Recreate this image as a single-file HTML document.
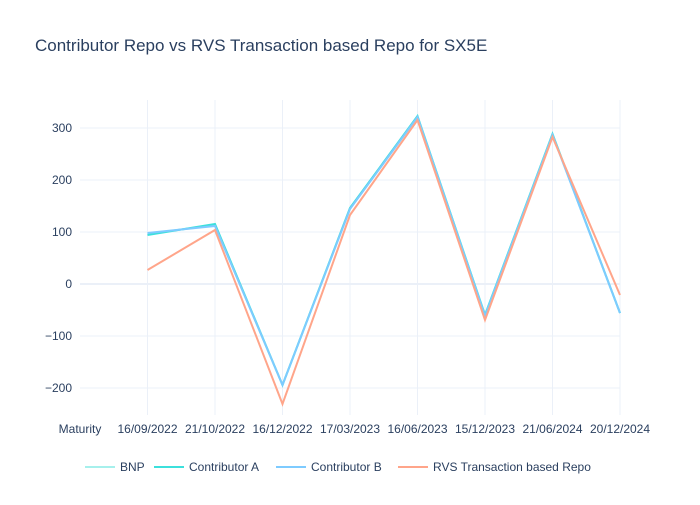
<!DOCTYPE html>
<html><head><meta charset="utf-8"><style>
body{margin:0;background:#fff;font-family:"Liberation Sans","Open Sans",sans-serif;}
text{font-family:"Liberation Sans","Open Sans",sans-serif;fill:#2a3f5f;}
</style></head><body>
<svg width="700" height="500" xmlns="http://www.w3.org/2000/svg">
<rect width="700" height="500" fill="#fff"/>
<text x="35" y="51" font-size="17">Contributor Repo vs RVS Transaction based Repo for SX5E</text>
<g stroke="#ebf0f8" stroke-width="1">
<line x1="147.5" y1="100" x2="147.5" y2="415"/>
<line x1="215" y1="100" x2="215" y2="415"/>
<line x1="282.5" y1="100" x2="282.5" y2="415"/>
<line x1="350" y1="100" x2="350" y2="415"/>
<line x1="417.5" y1="100" x2="417.5" y2="415"/>
<line x1="485" y1="100" x2="485" y2="415"/>
<line x1="552.5" y1="100" x2="552.5" y2="415"/>
<line x1="620" y1="100" x2="620" y2="415"/>
<line x1="80" y1="128" x2="620" y2="128"/>
<line x1="80" y1="180" x2="620" y2="180"/>
<line x1="80" y1="232" x2="620" y2="232"/>
<line x1="80" y1="336" x2="620" y2="336"/>
<line x1="80" y1="388" x2="620" y2="388"/>
</g>
<line x1="80" y1="284" x2="620" y2="284" stroke="#ebf0f8" stroke-width="2"/>
<g font-size="12" text-anchor="end">
<text x="72" y="132">300</text><text x="72" y="184">200</text><text x="72" y="236">100</text>
<text x="72" y="288">0</text><text x="72" y="340">−100</text><text x="72" y="392">−200</text>
</g>
<g font-size="12" text-anchor="middle">
<text x="80" y="433">Maturity</text><text x="147.5" y="433">16/09/2022</text><text x="215" y="433">21/10/2022</text>
<text x="282.5" y="433">16/12/2022</text><text x="350" y="433">17/03/2023</text><text x="417.5" y="433">16/06/2023</text>
<text x="485" y="433">15/12/2023</text><text x="552.5" y="433">21/06/2024</text><text x="620" y="433">20/12/2024</text>
</g>
<g fill="none" stroke-width="2">
<polyline stroke="#a6f0ec" points="147.5,234 215,225 282.5,385 350,208 417.5,117 485,315 552.5,134 620,313"/>
<polyline stroke="#3ce0dc" points="147.5,235 215,224 282.5,385 350,208 417.5,116 485,315 552.5,134 620,313"/>
<polyline stroke="#7ecbff" points="147.5,233 215,226 282.5,385 350,209 417.5,117 485,316 552.5,135 620,313"/>
<polyline stroke="#ffa58a" points="147.5,270 215,230 282.5,404 350,215 417.5,120 485,320 552.5,137 620,295"/>
</g>
<g font-size="12">
<line x1="85" y1="467" x2="115" y2="467" stroke="#a6f0ec" stroke-width="2"/><text x="120" y="471">BNP</text>
<line x1="154" y1="467" x2="184" y2="467" stroke="#3ce0dc" stroke-width="2"/><text x="189" y="471">Contributor A</text>
<line x1="276" y1="467" x2="306" y2="467" stroke="#7ecbff" stroke-width="2"/><text x="311" y="471">Contributor B</text>
<line x1="398" y1="467" x2="428" y2="467" stroke="#ffa58a" stroke-width="2"/><text x="433" y="471">RVS Transaction based Repo</text>
</g>
</svg>
</body></html>
